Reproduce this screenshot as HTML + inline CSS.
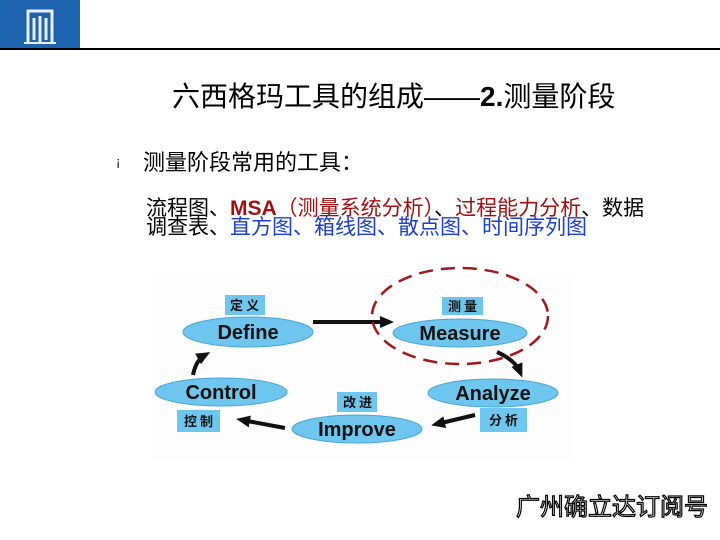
<!DOCTYPE html>
<html><head><meta charset="utf-8"><style>
body{margin:0;width:720px;height:540px;background:#fff;position:relative;overflow:hidden;font-family:"Liberation Sans","Noto Sans CJK SC",sans-serif;}
.a{position:absolute;white-space:nowrap}
</style></head><body>
<div class="a" style="left:0;top:0;width:80px;height:49px;background:#1c62ad"></div>
<svg class="a" style="left:22px;top:6px" width="36" height="38" viewBox="0 0 36 38">
<g fill="none" stroke="#e8eef6" stroke-width="3">
<path d="M6 36V5h24v31"/><path d="M12 34V12M18 36V10M24 34V12"/></g>
<path d="M2 37h32" stroke="#e8eef6" stroke-width="2"/></svg>
<div class="a" style="left:0;top:48px;width:720px;height:2px;background:#000"></div>
<div class="a" style="left:172px;top:75px;font-size:28px;color:#000">六西格玛工具的组成——<b>2.</b>测量阶段</div>
<div class="a" style="left:116px;top:154px;font-size:13px">¡</div>
<div class="a" style="left:143px;top:145px;font-size:22px">测量阶段常用的工具：</div>
<div class="a" style="left:146px;top:199px;font-size:21px;line-height:19px">流程图、<b style="color:#a01010">MSA</b><span style="color:#a01010">（测量系统分析）</span>、<span style="color:#a01010">过程能力分析</span>、数据<br>调查表、<span style="color:#1a3fd0">直方图、箱线图、散点图、时间序列图</span></div>
<svg class="a" style="left:0;top:0" width="720" height="540">
<defs><marker id="m" markerUnits="userSpaceOnUse" markerWidth="14" markerHeight="12" refX="8" refY="6" orient="auto"><path d="M0 0L14 6L0 12z" fill="#111"/></marker></defs>
<rect x="152" y="275" width="420" height="185" fill="#fdfdfd"/>
<g stroke="#111" stroke-width="4" fill="none" marker-end="url(#m)">
<path d="M313 322L388 322"/>
<path d="M497 352Q515 360 520 372"/>
<path d="M475 415L437 424"/>
<path d="M285 428L242 420"/>
<path d="M193 375Q196 360 205 355"/>
</g>
<g fill="#6ec6ee" stroke="#4aa6d6" stroke-width="1">
<ellipse cx="248" cy="332" rx="65" ry="15"/>
<ellipse cx="460" cy="333" rx="67" ry="14"/>
<ellipse cx="493" cy="393" rx="65" ry="14"/>
<ellipse cx="357" cy="429" rx="65" ry="14"/>
<ellipse cx="221" cy="392" rx="66" ry="14"/>
</g>
<g fill="#6ec6ee">
<rect x="225" y="295" width="40" height="20"/>
<rect x="442" y="297" width="41" height="18"/>
<rect x="480" y="408" width="47" height="24"/>
<rect x="337" y="392" width="40" height="20"/>
<rect x="177" y="410" width="43" height="22"/>
</g>
<g font-family="Liberation Sans,sans-serif" font-weight="bold" font-size="20" fill="#111" text-anchor="middle">
<text x="248" y="339">Define</text><text x="460" y="340">Measure</text>
<text x="493" y="400">Analyze</text><text x="357" y="436">Improve</text><text x="221" y="399">Control</text>
</g>
<g font-family="Noto Sans CJK SC,sans-serif" font-size="13" font-weight="bold" fill="#111" text-anchor="middle" letter-spacing="3">
<text x="246" y="310">定义</text><text x="464" y="311">测量</text><text x="505" y="425">分析</text>
<text x="359" y="407">改进</text><text x="200" y="426">控制</text>
</g>
<ellipse cx="460" cy="316" rx="88" ry="48" fill="none" stroke="#a01818" stroke-width="2.5" stroke-dasharray="14 8"/>
<text x="612" y="515" text-anchor="middle" font-family="Noto Sans CJK SC,sans-serif" font-size="24" fill="#fff" stroke="#000" stroke-width="1.2">广州确立达订阅号</text>
</svg>
</body></html>
